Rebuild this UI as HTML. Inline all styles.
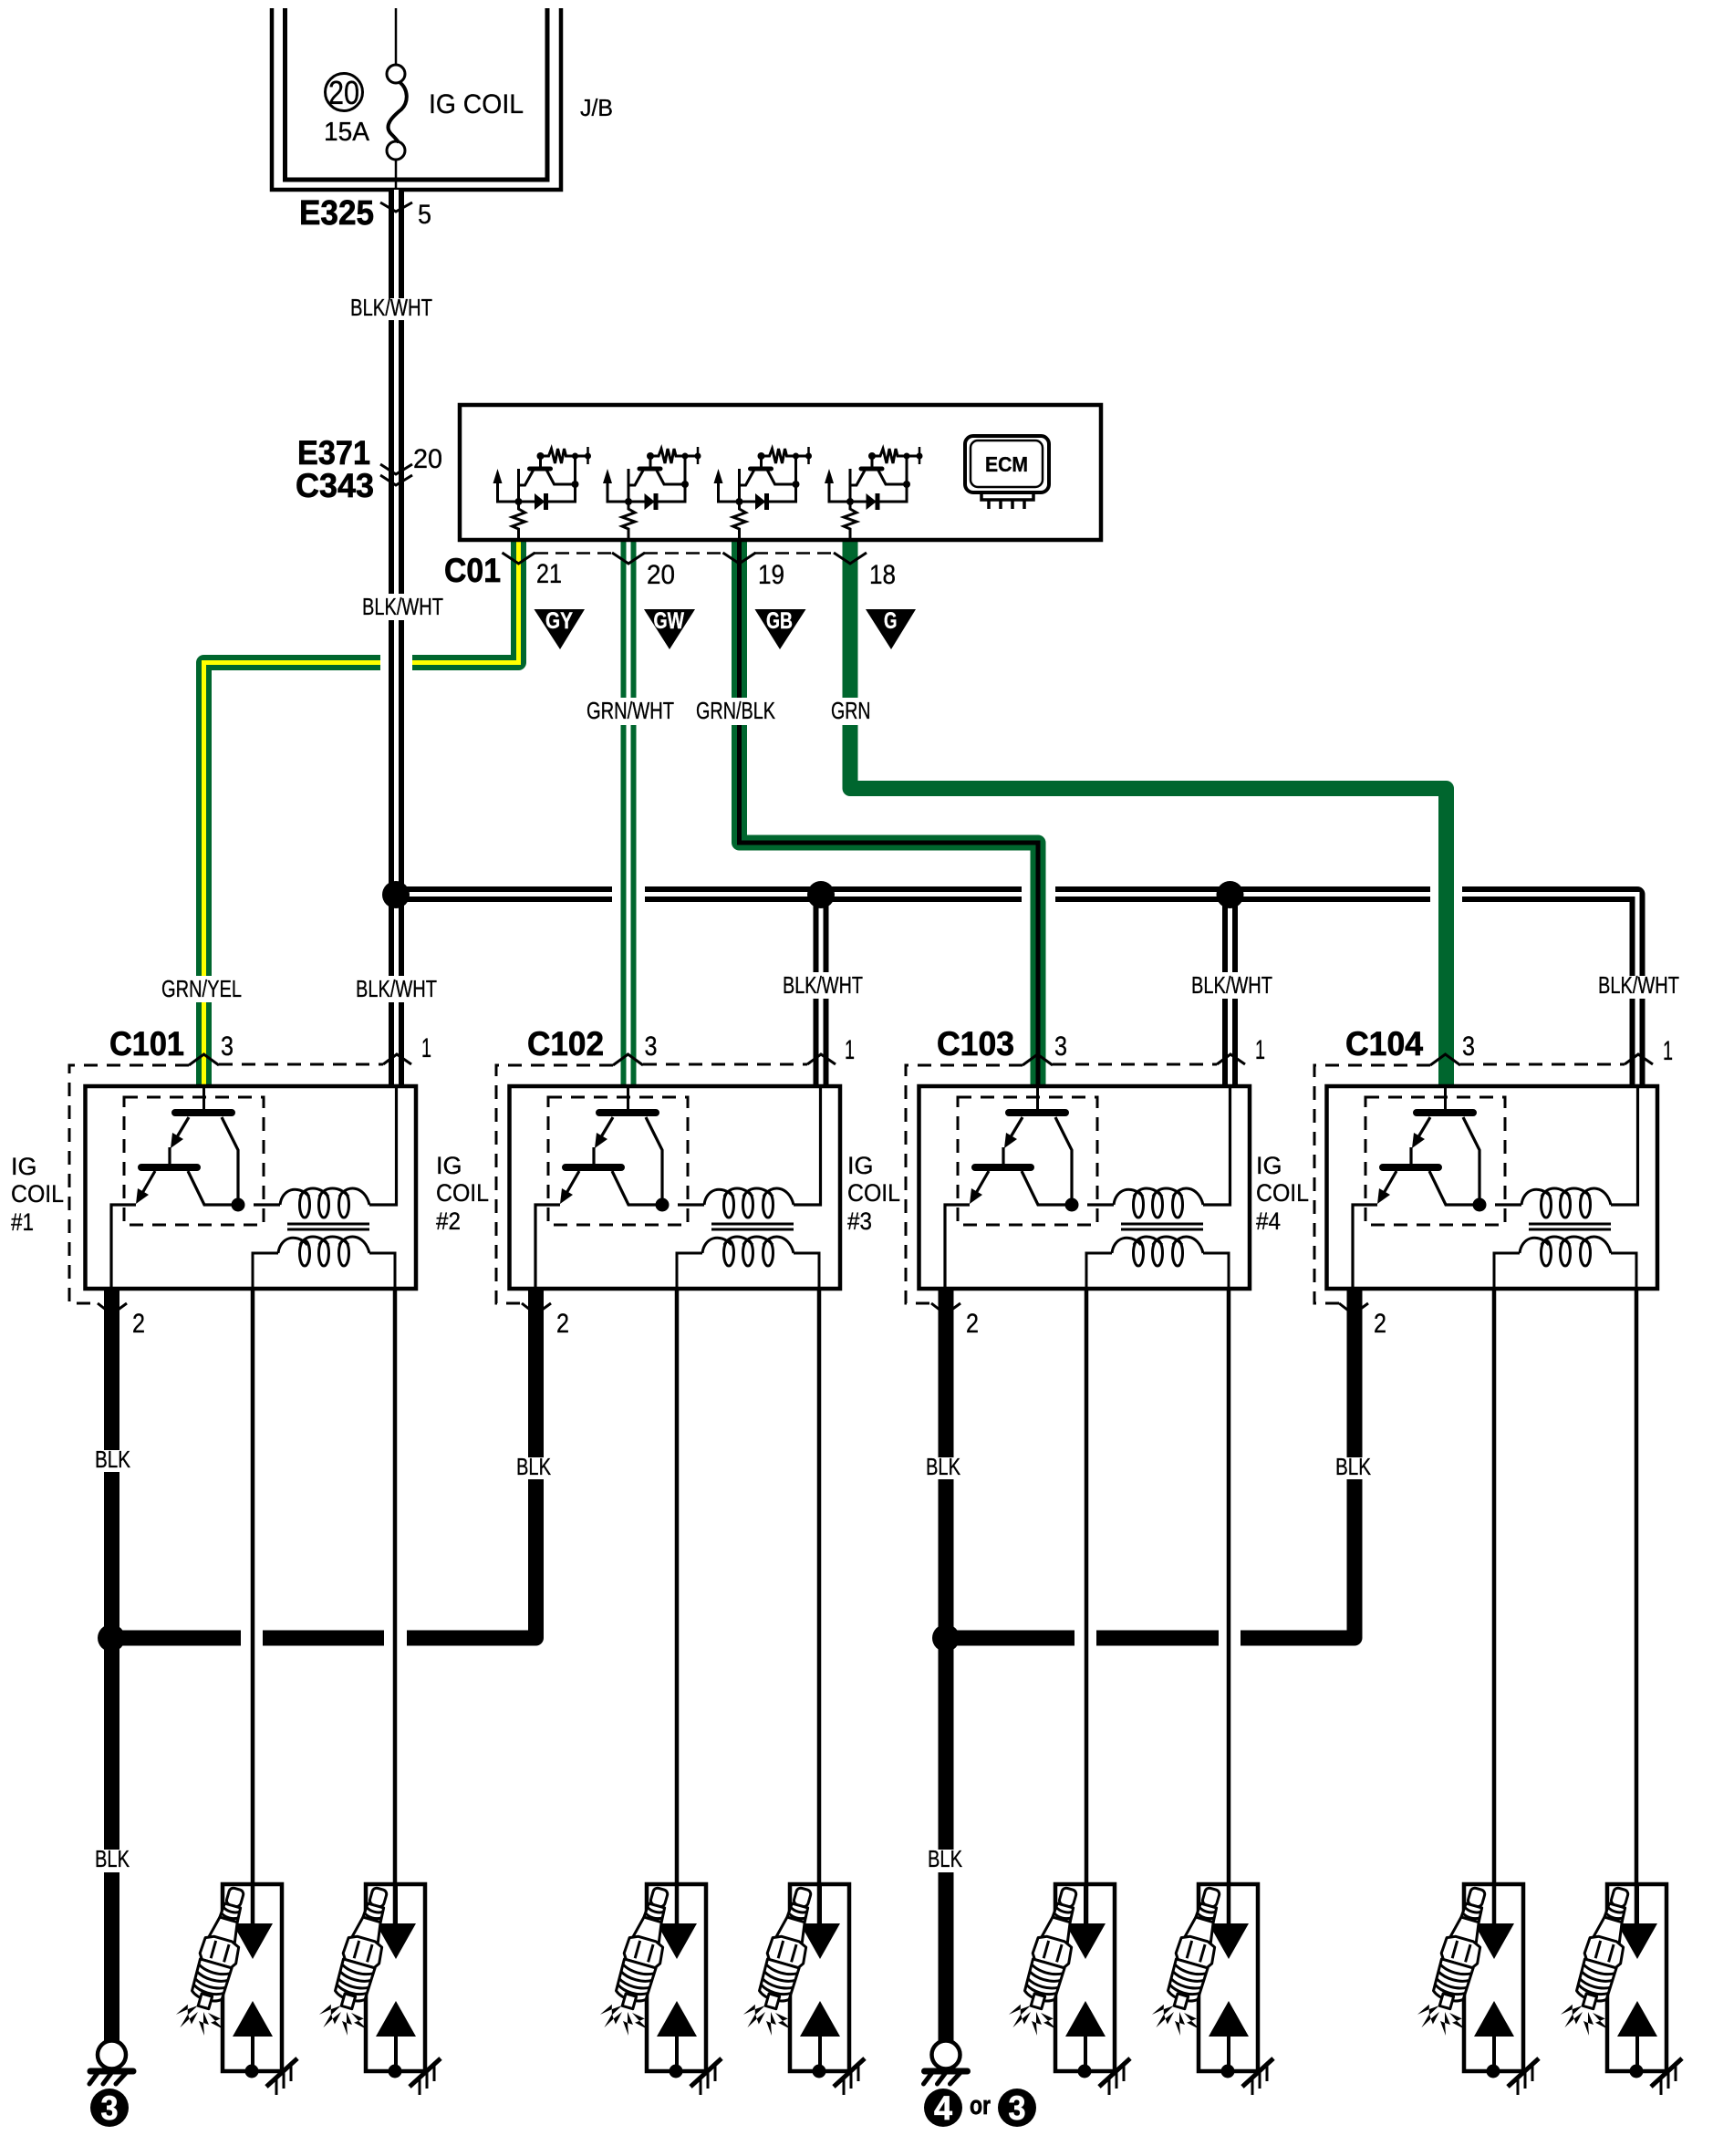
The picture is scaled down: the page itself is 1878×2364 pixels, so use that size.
<!DOCTYPE html>
<html><head><meta charset="utf-8"><title>IG Coil wiring diagram</title>
<style>
html,body{margin:0;padding:0;background:#fff;width:1878px;height:2364px;overflow:hidden}
svg{display:block}
text{font-family:"Liberation Sans",sans-serif;fill:#000;stroke:#000;stroke-width:.35}
.b{font-weight:bold;stroke:#000;stroke-width:.7}
.w{font-size:26px}
.n{font-size:30px}
.c{font-size:37px}
.i{font-size:27px}
.t{font-size:25px;font-weight:bold;fill:#fff;stroke:#fff;stroke-width:.4}
</style></head><body>
<svg xmlns="http://www.w3.org/2000/svg" width="1878" height="2364" viewBox="0 0 1878 2364">
<defs>
<g id="ecmt" fill="none" stroke="#000" stroke-width="3">
 <path d="M0 592V580L-7 577L7 572L-7 567L7 562L0 558V514" stroke-width="3"/>
 <path d="M-23 530V550H62V500M0 532H7L17 514M30 514L39 531H62" stroke-width="3"/>
 <path d="M12 514H35" stroke-width="5" stroke-linecap="round"/>
 <path d="M24 514V500H33L36 492L40 508L43 492L47 508L50 492L52 500H76" stroke-width="3"/>
 <path d="M76 490V509" stroke-width="2.5"/>
 <polygon points="-23,514 -28,530 -18,530" fill="#000" stroke="none"/>
 <polygon points="18,542 28,550 18,558" fill="#000" stroke="#000" stroke-width="1"/>
 <path d="M30 541V559" stroke-width="5"/>
 <circle cx="0" cy="550" r="4" fill="#000" stroke="none"/>
 <circle cx="24" cy="500" r="4" fill="#000" stroke="none"/>
 <circle cx="62" cy="500" r="3.5" fill="#000" stroke="none"/>
 <circle cx="62" cy="531" r="4" fill="#000" stroke="none"/>
 <circle cx="76" cy="500" r="3.5" fill="#000" stroke="none"/>
</g>
<g id="cb" fill="none" stroke="#000">
 <path d="M240 1167H420" stroke-width="3" stroke-dasharray="15 10"/>
 <rect x="136" y="1203" width="153" height="140" stroke-width="3" stroke-dasharray="15 10"/>
 <rect x="93.5" y="1191" width="362.5" height="222" stroke-width="4.5" fill="none"/>
 <path d="M207 1168L223.5 1156L240 1168M420 1167L435 1156L451 1167M107 1429L122.5 1441L139 1429" stroke-width="3"/>
 <path d="M223.5 1191V1220" stroke-width="3"/>
 <path d="M192 1220H254M155 1280H216" stroke-width="8" stroke-linecap="round"/>
 <path d="M207 1225L192 1250M186 1258V1280M243 1225L261 1261V1321M170 1284L155 1310M206 1284L224 1321H268M278 1321H307M149 1321H122V1413M405 1321H434.5V1191" stroke-width="3.2"/>
 <polygon points="187,1259 189,1242 201,1249" fill="#000" stroke="none"/>
 <polygon points="149,1320 151,1303 163,1310" fill="#000" stroke="none"/>
 <circle cx="261" cy="1321" r="7.5" fill="#000" stroke="none"/>
 <g stroke-width="3">
  <path id="coilT" d="M307 1321C309 1304 326 1298 339 1312M329 1312C335 1300 350 1300 360 1312M350 1312C356 1300 372 1300 382 1312M372 1312C380 1298 400 1300 405 1321"/>
  <ellipse cx="334" cy="1321" rx="5.5" ry="14"/><ellipse cx="355" cy="1321" rx="5.5" ry="14"/><ellipse cx="377" cy="1321" rx="5.5" ry="14"/>
  <path d="M315 1342H405M315 1348H405"/>
  <path d="M305 1374C307 1357 324 1351 337 1365M329 1365C335 1353 350 1353 360 1365M350 1365C356 1353 372 1353 382 1365M372 1365C380 1351 400 1353 405 1374"/>
  <ellipse cx="334" cy="1374" rx="5.5" ry="14"/><ellipse cx="355" cy="1374" rx="5.5" ry="14"/><ellipse cx="377" cy="1374" rx="5.5" ry="14"/>
  <path d="M305 1374H277V1413M405 1374H433V1413"/>
 </g>
 <path d="M277 1413V2109M433 1413V2109" stroke-width="4.5"/>
</g>
<g id="plug">
 <g transform="translate(223 2201) rotate(16)" fill="#fff" stroke="#000" stroke-width="3" stroke-linejoin="round">
  <rect x="-8" y="-135" width="16" height="19" rx="5"/>
  <path d="M-9 -116H9L10 -100H-10Z"/>
  <path d="M-10 -112C-4 -108 4 -108 10 -112M-10 -105C-4 -101 4 -101 10 -105" fill="none"/>
  <path d="M-10 -100L-16 -74H14L10 -100Z"/>
  <path d="M-19 -74L-20 -56L-16 -50H17L21 -56L19 -74L10 -78H-10Z"/>
  <path d="M-7 -74V-54M8 -74V-54" fill="none"/>
  <path d="M-18 -50L-17 -14C-9 -7 9 -7 17 -14L18 -50Z"/>
  <path d="M-18 -44C-8 -38 8 -38 18 -44M-18 -36C-8 -30 8 -30 18 -36M-18 -28C-8 -22 8 -22 18 -28M-17 -21C-8 -15 8 -15 17 -21" fill="none"/>
  <path d="M-6 -14V0H6V-14Z"/>
 </g>
 <g fill="#000">
  <polygon points="0,0 14,-6 12,0 26,-1 10,5 12,0" transform="translate(217 2199) rotate(160)"/>
  <polygon points="0,0 14,-6 12,0 26,-1 10,5 12,0" transform="translate(217 2206) rotate(141)"/>
  <polygon points="0,0 14,-6 12,0 26,-1 10,5 12,0" transform="translate(223 2206) rotate(90)"/>
  <polygon points="0,0 14,-6 12,0 26,-1 10,5 12,0" transform="translate(228 2207) rotate(48)"/>
 </g>
</g>
<g id="sb">
 <rect x="244" y="2066" width="65" height="205" fill="none" stroke="#000" stroke-width="4.5"/>
 <path d="M277 2066V2120M277 2220V2271" stroke="#000" stroke-width="4" fill="none"/>
 <polygon points="255,2109 299,2109 277,2148" fill="#000"/>
 <polygon points="255,2233 299,2233 277,2194" fill="#000"/>
 <circle cx="276" cy="2271" r="7.5" fill="#000"/>
 <path d="M292 2288L326 2257" stroke="#000" stroke-width="5" fill="none"/>
 <path d="M303 2278V2297M311 2271V2290M319 2263V2282" stroke="#000" stroke-width="3" fill="none"/>
</g>
<g id="gnd">
 <circle cx="122.5" cy="2253" r="15.5" fill="#fff" stroke="#000" stroke-width="4.5"/>
 <path d="M99 2271H146" stroke="#000" stroke-width="7" stroke-linecap="round" fill="none"/>
 <path d="M107 2273L98 2285M122 2273L113 2285M138 2273L127 2285" stroke="#000" stroke-width="5" stroke-linecap="round" fill="none"/>
</g>
</defs>

<!-- J/B -->
<g fill="none" stroke="#000" stroke-width="4.5">
 <path d="M298 9V208H615V9"/>
 <path d="M312.5 9V197H600V9" stroke-width="5"/>
</g>
<path d="M434 9V72M434 175V210" stroke="#000" stroke-width="2.5" fill="none"/>
<circle cx="434" cy="81" r="10" fill="none" stroke="#000" stroke-width="3"/>
<circle cx="434" cy="165" r="10" fill="none" stroke="#000" stroke-width="3"/>
<path d="M438 90C448 98 448 112 440 120C430 128 420 138 429 147C432 150 434 152 437 156" stroke="#000" stroke-width="4" fill="none"/>
<circle cx="377" cy="101" r="20.5" fill="none" stroke="#000" stroke-width="3"/>
<text x="360" y="114" font-size="36" textLength="34" lengthAdjust="spacingAndGlyphs">20</text>
<text x="355" y="154" font-size="29" textLength="50" lengthAdjust="spacingAndGlyphs">15A</text>
<text x="470" y="124" font-size="30" textLength="104" lengthAdjust="spacingAndGlyphs">IG COIL</text>
<text x="636" y="127" font-size="26" textLength="36" lengthAdjust="spacingAndGlyphs">J/B</text>

<!-- BLK/WHT main + bus -->
<g fill="none" stroke-linejoin="round">
 <path d="M434.5 208V1191" stroke="#000" stroke-width="17"/>
 <path d="M434.5 208V1191" stroke="#fff" stroke-width="5"/>
 <g stroke="#000" stroke-width="17">
  <path d="M443 980.5H671M707 980.5H1120M1157 980.5H1568M1603 980.5H1795V1191"/>
  <path d="M900 980.5V1191M1348.5 980.5V1191"/>
 </g>
 <g stroke="#fff" stroke-width="5" stroke-linejoin="miter">
  <path d="M430 980.5H671M707 980.5H1120M1157 980.5H1568M1603 980.5H1795V1191"/>
  <path d="M900 980.5V1191M1348.5 980.5V1191"/>
 </g>
</g>
<circle cx="434" cy="981" r="15" fill="#000"/>
<circle cx="900" cy="981" r="15" fill="#000"/>
<circle cx="1348.5" cy="981" r="15" fill="#000"/>

<!-- coloured wires -->
<g fill="none">
 <path d="M568.5 592V726.5H452M417 726.5H223.5V1191" stroke="#00662e" stroke-width="17" stroke-linejoin="round"/>
 <path d="M568.5 592V726.5H452M417 726.5H223.5V1191" stroke="#ffff00" stroke-width="5"/>
 <path d="M689 592V1191" stroke="#00662e" stroke-width="17"/>
 <path d="M689 592V1191" stroke="#fff" stroke-width="5"/>
 <path d="M810.5 592V924H1138V1191" stroke="#00662e" stroke-width="17" stroke-linejoin="round"/>
 <path d="M810.5 592V924H1138V1191" stroke="#000" stroke-width="5"/>
 <path d="M932 592V864.5H1585.5V1191" stroke="#00662e" stroke-width="17" stroke-linejoin="round"/>
</g>

<!-- ECM box -->
<rect x="504" y="444" width="703" height="148" fill="none" stroke="#000" stroke-width="4.5"/>
<use href="#ecmt" x="568.5"/><use href="#ecmt" x="689"/><use href="#ecmt" x="810.5"/><use href="#ecmt" x="932"/>
<rect x="1058" y="478" width="92" height="62" rx="9" fill="none" stroke="#000" stroke-width="4"/>
<rect x="1064" y="483" width="79" height="51" rx="8" fill="none" stroke="#000" stroke-width="2.5"/>
<text x="1080" y="517" font-size="23" font-weight="bold" textLength="47" lengthAdjust="spacingAndGlyphs">ECM</text>
<path d="M1076 540V548H1133V540M1084 548V558M1097 548V558M1110 548V558M1123 548V558" fill="none" stroke="#000" stroke-width="3.5"/>

<!-- C01 connector -->
<g fill="none" stroke="#000" stroke-width="3">
 <path d="M586 606.5H671M706 606.5H793M827 606.5H912" stroke-width="2.5" stroke-dasharray="15 8"/>
 <path d="M550.5 606L568.5 618L586.5 606M671 606L689 618L707 606M792.5 606L810.5 618L828.5 606M914 606L932 618L950 606"/>
</g>
<text class="b c" x="487" y="638" textLength="62" lengthAdjust="spacingAndGlyphs">C01</text>
<text class="n" x="588" y="639" textLength="28" lengthAdjust="spacingAndGlyphs">21</text>
<text class="n" x="709" y="640" textLength="31" lengthAdjust="spacingAndGlyphs">20</text>
<text class="n" x="831" y="640" textLength="29" lengthAdjust="spacingAndGlyphs">19</text>
<text class="n" x="953" y="640" textLength="29" lengthAdjust="spacingAndGlyphs">18</text>
<polygon points="585.5,668 641,668 614,712" fill="#000"/>
<polygon points="706,668 762,668 734,712" fill="#000"/>
<polygon points="827.5,668 883.5,668 855,712" fill="#000"/>
<polygon points="949,668 1004,668 977,712" fill="#000"/>
<text class="t" x="598" y="689" textLength="30" lengthAdjust="spacingAndGlyphs">GY</text>
<text class="t" x="716.5" y="689" textLength="33.5" lengthAdjust="spacingAndGlyphs">GW</text>
<text class="t" x="840" y="689" textLength="29" lengthAdjust="spacingAndGlyphs">GB</text>
<text class="t" x="969" y="689" textLength="14.5" lengthAdjust="spacingAndGlyphs">G</text>

<!-- E325 / E371 -->
<text class="b" x="328" y="246" font-size="38" textLength="82" lengthAdjust="spacingAndGlyphs">E325</text>
<text class="n" x="458" y="245" textLength="15" lengthAdjust="spacingAndGlyphs">5</text>
<path d="M417 222L434 232L452 222" fill="none" stroke="#000" stroke-width="3"/>
<text class="b c" x="326" y="509" textLength="80" lengthAdjust="spacingAndGlyphs">E371</text>
<text class="b c" x="324" y="545" textLength="86" lengthAdjust="spacingAndGlyphs">C343</text>
<text class="n" x="453" y="513" textLength="32" lengthAdjust="spacingAndGlyphs">20</text>
<path d="M417 509L434 520L452 509M417 521L434 532L452 521" fill="none" stroke="#000" stroke-width="3"/>

<!-- BLK thick wires -->
<g fill="none" stroke="#000" stroke-width="17" stroke-linejoin="round">
 <path d="M122.5 1413V2240"/>
 <path d="M122.5 1796H264M288 1796H421M446 1796H587.5V1413"/>
 <path d="M1037 1413V2240"/>
 <path d="M1037 1796H1178M1202 1796H1336M1360 1796H1485V1413"/>
</g>
<circle cx="122" cy="1796" r="15" fill="#000"/>
<circle cx="1037" cy="1796" r="15" fill="#000"/>

<!-- outer dashed left runs -->
<g fill="none" stroke="#000" stroke-width="3" stroke-dasharray="15 10">
 <path d="M207 1168H76V1429H107"/>
 <path d="M672 1168H544V1429H572"/>
 <path d="M1121 1168H993V1429H1021"/>
 <path d="M1568 1168H1441V1429H1468"/>
</g>

<!-- Coil groups -->
<use href="#cb"/><use href="#cb" x="465"/><use href="#cb" x="914"/><use href="#cb" x="1361"/>

<!-- Spark plug boxes -->
<use href="#sb"/><use href="#sb" x="157"/><use href="#sb" x="465"/><use href="#sb" x="622"/>
<use href="#sb" x="913"/><use href="#sb" x="1070"/><use href="#sb" x="1361"/><use href="#sb" x="1518"/>
<use href="#plug"/><use href="#plug" x="157"/><use href="#plug" x="465"/><use href="#plug" x="622"/>
<use href="#plug" x="913"/><use href="#plug" x="1070"/><use href="#plug" x="1361"/><use href="#plug" x="1518"/>

<!-- Grounds -->
<use href="#gnd"/><use href="#gnd" x="914.5"/>
<circle cx="120" cy="2311" r="21" fill="#000"/>
<text class="b" x="110.5" y="2324" font-size="37" style="fill:#fff;stroke:#fff" textLength="19" lengthAdjust="spacingAndGlyphs">3</text>
<circle cx="1034" cy="2311" r="21" fill="#000"/>
<text class="b" x="1024" y="2324" font-size="37" style="fill:#fff;stroke:#fff" textLength="20" lengthAdjust="spacingAndGlyphs">4</text>
<text class="b" x="1063" y="2318" font-size="29" textLength="23" lengthAdjust="spacingAndGlyphs">or</text>
<circle cx="1115" cy="2311" r="21" fill="#000"/>
<text class="b" x="1105.5" y="2324" font-size="37" style="fill:#fff;stroke:#fff" textLength="19" lengthAdjust="spacingAndGlyphs">3</text>

<!-- label gaps -->
<g fill="#fff">
 <rect x="420" y="327" width="30" height="24"/>
 <rect x="420" y="651" width="30" height="29"/>
 <rect x="420" y="1070" width="30" height="29"/>
 <rect x="210" y="1070" width="27" height="29"/>
 <rect x="675" y="765" width="28" height="30"/>
 <rect x="797" y="765" width="27" height="30"/>
 <rect x="918" y="765" width="28" height="30"/>
 <rect x="886" y="1066" width="28" height="29"/>
 <rect x="1335" y="1066" width="28" height="29"/>
 <rect x="1782" y="1070" width="28" height="25"/>
 <rect x="110" y="1590" width="25" height="24"/>
 <rect x="575" y="1598" width="25" height="24"/>
 <rect x="1025" y="1598" width="25" height="24"/>
 <rect x="1473" y="1598" width="25" height="24"/>
 <rect x="110" y="2028" width="25" height="25"/>
 <rect x="1025" y="2028" width="25" height="25"/>
</g>

<!-- wire labels -->
<text class="w" x="384" y="346" textLength="90" lengthAdjust="spacingAndGlyphs">BLK/WHT</text>
<text class="w" x="397" y="674" textLength="89" lengthAdjust="spacingAndGlyphs">BLK/WHT</text>
<text class="w" x="643" y="788" textLength="96" lengthAdjust="spacingAndGlyphs">GRN/WHT</text>
<text class="w" x="763" y="788" textLength="87" lengthAdjust="spacingAndGlyphs">GRN/BLK</text>
<text class="w" x="911" y="788" textLength="43.5" lengthAdjust="spacingAndGlyphs">GRN</text>
<text class="w" x="177" y="1093" textLength="88" lengthAdjust="spacingAndGlyphs">GRN/YEL</text>
<text class="w" x="390" y="1093" textLength="89" lengthAdjust="spacingAndGlyphs">BLK/WHT</text>
<text class="w" x="858" y="1089" textLength="88" lengthAdjust="spacingAndGlyphs">BLK/WHT</text>
<text class="w" x="1306" y="1089" textLength="89" lengthAdjust="spacingAndGlyphs">BLK/WHT</text>
<text class="w" x="1752" y="1089" textLength="89" lengthAdjust="spacingAndGlyphs">BLK/WHT</text>
<text class="w" x="104" y="1609" textLength="39" lengthAdjust="spacingAndGlyphs">BLK</text>
<text class="w" x="566" y="1617" textLength="38" lengthAdjust="spacingAndGlyphs">BLK</text>
<text class="w" x="1015" y="1617" textLength="38" lengthAdjust="spacingAndGlyphs">BLK</text>
<text class="w" x="1464" y="1617" textLength="39" lengthAdjust="spacingAndGlyphs">BLK</text>
<text class="w" x="104" y="2047" textLength="38" lengthAdjust="spacingAndGlyphs">BLK</text>
<text class="w" x="1017" y="2047" textLength="38" lengthAdjust="spacingAndGlyphs">BLK</text>

<!-- connector labels -->
<text class="b c" x="120" y="1157" textLength="82" lengthAdjust="spacingAndGlyphs">C101</text>
<text class="b c" x="578" y="1157" textLength="84" lengthAdjust="spacingAndGlyphs">C102</text>
<text class="b c" x="1027" y="1157" textLength="85" lengthAdjust="spacingAndGlyphs">C103</text>
<text class="b c" x="1475" y="1157" textLength="85" lengthAdjust="spacingAndGlyphs">C104</text>
<text class="n" x="242" y="1157" textLength="14" lengthAdjust="spacingAndGlyphs">3</text>
<text class="n" x="706.5" y="1157" textLength="14" lengthAdjust="spacingAndGlyphs">3</text>
<text class="n" x="1156" y="1157" textLength="14" lengthAdjust="spacingAndGlyphs">3</text>
<text class="n" x="1603" y="1157" textLength="14" lengthAdjust="spacingAndGlyphs">3</text>
<text class="n" x="462" y="1159" textLength="11" lengthAdjust="spacingAndGlyphs">1</text>
<text class="n" x="926" y="1161" textLength="11" lengthAdjust="spacingAndGlyphs">1</text>
<text class="n" x="1376" y="1161" textLength="11" lengthAdjust="spacingAndGlyphs">1</text>
<text class="n" x="1823" y="1162" textLength="11" lengthAdjust="spacingAndGlyphs">1</text>
<text class="n" x="145" y="1461" textLength="14" lengthAdjust="spacingAndGlyphs">2</text>
<text class="n" x="610" y="1461" textLength="14" lengthAdjust="spacingAndGlyphs">2</text>
<text class="n" x="1059" y="1461" textLength="14" lengthAdjust="spacingAndGlyphs">2</text>
<text class="n" x="1506" y="1461" textLength="14" lengthAdjust="spacingAndGlyphs">2</text>

<!-- IG COIL labels -->
<text class="i" x="12" y="1288">IG</text>
<text class="i" x="12" y="1318" textLength="58" lengthAdjust="spacingAndGlyphs">COIL</text>
<text class="i" x="12" y="1349" textLength="25" lengthAdjust="spacingAndGlyphs">#1</text>
<text class="i" x="478" y="1287">IG</text>
<text class="i" x="478" y="1317" textLength="58" lengthAdjust="spacingAndGlyphs">COIL</text>
<text class="i" x="478" y="1348" textLength="27" lengthAdjust="spacingAndGlyphs">#2</text>
<text class="i" x="929" y="1287">IG</text>
<text class="i" x="929" y="1317" textLength="58" lengthAdjust="spacingAndGlyphs">COIL</text>
<text class="i" x="929" y="1348" textLength="27" lengthAdjust="spacingAndGlyphs">#3</text>
<text class="i" x="1377" y="1287">IG</text>
<text class="i" x="1377" y="1317" textLength="58" lengthAdjust="spacingAndGlyphs">COIL</text>
<text class="i" x="1377" y="1348" textLength="27" lengthAdjust="spacingAndGlyphs">#4</text>
</svg>
</body></html>
